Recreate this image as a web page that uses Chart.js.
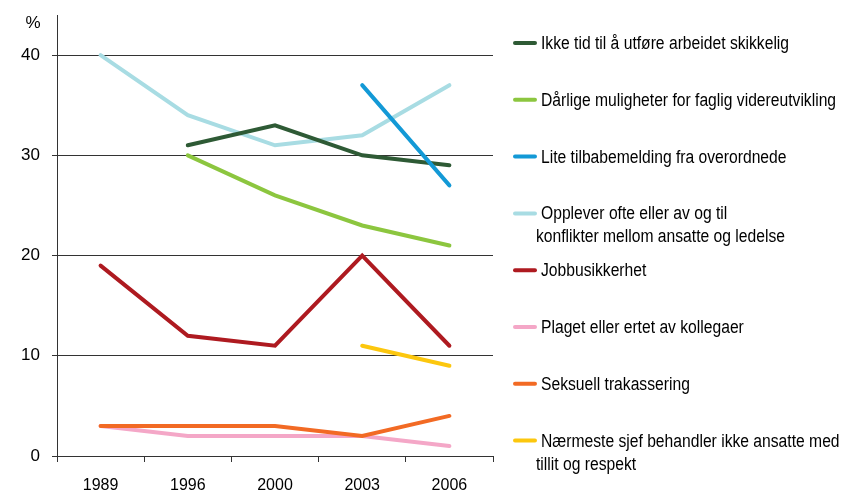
<!DOCTYPE html>
<html lang="no">
  <head>
    <meta charset="UTF-8" />
    <title>Arbeidsmiljø</title>
    <script src="https://cdn.jsdelivr.net/npm/chart.js"></script>
    <style>
      html, body { margin: 0; padding: 0; background: #fff; }
      #wrap { position: relative; width: 844px; height: 493px; }
    </style>
  </head>
  <body>
    <div id="wrap"><canvas id="chart" width="844" height="493"></canvas></div>
    <script>
      const years = ['1989', '1996', '2000', '2003', '2006'];
      const yTicks = [0, 10, 20, 30, 40];

      const labels = [
        'Ikke tid til å utføre arbeidet skikkelig',
        'Dårlige muligheter for faglig videreutvikling',
        'Lite tilbabemelding fra overordnede',
        'Opplever ofte eller av og til\nkonflikter mellom ansatte og ledelse',
        'Jobbusikkerhet',
        'Plaget eller ertet av kollegaer',
        'Seksuell trakassering',
        'Nærmeste sjef behandler ikke ansatte med\ntillit og respekt'
      ];

      const ikkeTid = [null, 31, 33, 30, 29];
      const darligeMuligheter = [null, 30, 26, 23, 21];
      const liteTilbakemelding = [null, null, null, 37, 27];
      const konflikter = [40, 34, 31, 32, 37];
      const jobbusikkerhet = [19, 12, 11, 20, 11];
      const plaget = [3, 2, 2, 2, 1];
      const seksuell = [3, 3, 3, 2, 4];
      const naermesteSjef = [null, null, null, 11, 9];

      const colors = ['#2e5a35', '#8cc63f', '#1399d6', '#a8dce3', '#ae1a20', '#f4a7c7', '#f26a24', '#fcc70e'];
      const series = [ikkeTid, darligeMuligheter, liteTilbakemelding, konflikter, jobbusikkerhet, plaget, seksuell, naermesteSjef];
      const drawOrder = [2, 3, 1, 4, 2, 3, 1, 2];

      const font = 'Liberation Sans, Arial, sans-serif';

      // legend + "%" drawn on the canvas
      const sidePlugin = {
        id: 'side',
        afterDraw(chart) {
          const ctx = chart.ctx;
          ctx.save();
          ctx.fillStyle = '#000';
          ctx.font = '17px ' + font;
          ctx.textAlign = 'center';
          ctx.textBaseline = 'middle';
          ctx.fillText('%', 33, 23);

          ctx.textAlign = 'left';
          chart.data.datasets.forEach((ds, i) => {
            const cy = 43 + i * 56.8;
            ctx.strokeStyle = ds.borderColor;
            ctx.lineWidth = 4;
            ctx.lineCap = 'round';
            ctx.beginPath();
            ctx.moveTo(515, cy);
            ctx.lineTo(535, cy);
            ctx.stroke();
            const lines = ds.label.split('\n');
            lines.forEach((t, j) => {
              ctx.save();
              ctx.translate(j === 0 ? 541 : 536, cy + j * 23);
              ctx.scale(0.87, 1);
              ctx.font = '18px ' + font;
              ctx.fillText(t, 0, 1);
              ctx.restore();
            });
          });
          ctx.restore();
        }
      };

      new Chart(document.getElementById('chart'), {
        type: 'line',
        data: {
          labels: years,
          datasets: series.map((d, i) => ({
            label: labels[i],
            data: d,
            borderColor: colors[i],
            backgroundColor: colors[i],
            borderWidth: 4,
            borderCapStyle: 'round',
            pointRadius: 0,
            tension: 0,
            spanGaps: false,
            order: drawOrder[i]
          }))
        },
        options: {
          responsive: false,
          animation: false,
          layout: { padding: { top: 15, right: 351, bottom: 0, left: 0 } },
          plugins: { legend: { display: false }, tooltip: { enabled: false } },
          scales: {
            x: {
              offset: true,
              grid: { offset: true, drawOnChartArea: false, color: '#333', tickLength: 6 },
              border: { color: '#333', width: 1 },
              ticks: { color: '#000', font: { family: font, size: 16 }, padding: 14, maxRotation: 0 },
              afterFit(s) { s.height = 37; s.paddingLeft = 0; s.paddingRight = 0; }
            },
            y: {
              min: 0,
              max: 44,
              afterBuildTicks(s) { s.ticks = yTicks.map(v => ({ value: v })); },
              grid: { color: '#333', lineWidth: 1, tickLength: 5 },
              border: { color: '#333', width: 1 },
              ticks: { color: '#000', font: { family: font, size: 17 }, padding: 12 },
              afterFit(s) { s.width = 57; s.paddingTop = 0; s.paddingBottom = 0; }
            }
          }
        },
        plugins: [sidePlugin]
      });
    </script>
  </body>
</html>
